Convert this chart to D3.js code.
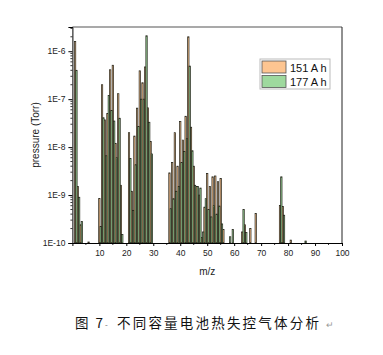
<!DOCTYPE html>
<html><head><meta charset="utf-8">
<script src="https://cdn.jsdelivr.net/npm/d3@7"></script>
<style>body{margin:0;background:#fff;} svg{display:block;}</style>
</head><body>
<svg id="c" width="383" height="355"></svg>
<script>
const mz   = [1,2,3,6,10,11,12,13,14,15,16,17,18,21,22,23,24,25,26,27,28,29,36,37,38,39,40,41,42,43,44,45,46,47,48,49,50,51,52,53,54,55,56,58,59,63,64,66,68,77,78,81,86];
const p151 = [1.6e-6,1.5e-9,2.4e-10,1.05e-10,8.5e-10,2.0e-7,3.7e-8,5e-8,4.1e-7,5.1e-7,1.2e-8,1.3e-7,1.6e-9,2.0e-8,1.2e-9,1.7e-8,6.5e-8,3.9e-7,2.2e-7,4.7e-7,6.6e-8,1.3e-8,2.9e-9,4.8e-9,2.0e-8,4e-9,3.4e-8,1.4e-8,4.4e-8,2.0e-6,2.6e-8,4e-9,1.5e-9,1.0e-9,1.3e-10,5.6e-10,2.8e-9,1.5e-9,2.4e-9,2.5e-9,1.9e-9,2.2e-9,1.9e-10,null,null,1.7e-10,2.4e-10,2e-10,4.1e-10,6.1e-10,5.8e-10,1.15e-10,null];
const p177 = [4.0e-7,9e-10,2.8e-10,null,2.2e-10,4.1e-8,6.6e-9,1.2e-7,5.8e-8,3.5e-8,6e-9,4e-8,1.5e-10,5.8e-9,4.8e-10,4.3e-9,2.7e-8,1.0e-7,1.0e-7,2.1e-6,3.3e-8,7.2e-9,5.2e-10,8.4e-10,1.2e-9,1.5e-9,4.8e-9,8.1e-9,1.5e-8,4.9e-7,8.4e-9,1.6e-9,1.5e-9,1.4e-9,1.7e-10,8.4e-10,5e-10,3.5e-10,6e-10,4e-10,5.9e-10,2.5e-10,null,1.35e-10,1.9e-10,5e-10,1.65e-10,null,null,2.4e-9,3.8e-10,null,1.1e-10];
const seriesNames = ["151 A h","177 A h"];
const seriesColors = ["#fdc591","#9ed99e"];
const xTicks = [10,20,30,40,50,60,70,80,90,100];
const yTicks = [1e-10,1e-9,1e-8,1e-7,1e-6];

const svg = d3.select("#c");
const L=72.4, R=342, T=27, B=243;
const x = d3.scaleLinear().domain([0,100]).range([L,R]);
const y = d3.scaleLog().domain([1e-10,3.2e-6]).range([B,T]);
const bw = x(0.5)-x(0);

const g = svg.append("g");
[p151,p177].forEach((arr,si)=>{
  g.selectAll(null).data(mz.map((m,i)=>({m,v:arr[i]})).filter(d=>d.v!=null))
    .enter().append("rect")
    .attr("x",d=>x(d.m-0.25+si*0.5))
    .attr("width",bw)
    .attr("y",d=>y(d.v))
    .attr("height",d=>B-y(d.v))
    .attr("fill",seriesColors[si])
    .attr("stroke","#1c1c12").attr("stroke-width",0.7);
});

// frame top/right
svg.append("line").attr("x1",L).attr("x2",R).attr("y1",T).attr("y2",T).attr("stroke","#555").attr("stroke-width",1.2);
svg.append("line").attr("x1",R).attr("x2",R).attr("y1",T).attr("y2",B).attr("stroke","#222").attr("stroke-width",1);

// y axis
const ya = svg.append("g").attr("transform",`translate(${L},0)`)
  .call(d3.axisLeft(y).tickValues(yTicks).tickSize(4).tickPadding(3).tickFormat(d=>"1E"+Math.round(Math.log10(d))));
const minor=[];
for(let e=-10;e<=-6;e++){for(let k=2;k<=9;k++){const v=k*Math.pow(10,e); if(v<=3.2e-6) minor.push(v);}}
ya.selectAll(".mn").data(minor).enter().append("line").attr("class","mn")
  .attr("x1",0).attr("x2",-2).attr("y1",d=>y(d)).attr("y2",d=>y(d)).attr("stroke","#000").attr("stroke-width",0.8);
ya.select(".domain").attr("stroke","#000");
ya.selectAll("text").attr("font-family","Liberation Sans, Arial, sans-serif").attr("font-size",8.5).attr("fill","#222");

// x axis
const xa = svg.append("g").attr("transform",`translate(0,${B})`)
  .call(d3.axisBottom(x).tickValues(xTicks).tickSize(3).tickPadding(4).tickFormat(d3.format("d")));
xa.selectAll(".mnx").data(d3.range(5,100,10)).enter().append("line").attr("class","mnx")
  .attr("x1",d=>x(d)).attr("x2",d=>x(d)).attr("y1",0).attr("y2",2).attr("stroke","#000").attr("stroke-width",0.8);
xa.select(".domain").attr("stroke","#000");
xa.selectAll("text").attr("font-family","Liberation Sans, Arial, sans-serif").attr("font-size",8.5).attr("fill","#222");

// axis titles
svg.append("text").attr("x",(L+R)/2).attr("y",275).attr("text-anchor","middle")
  .attr("font-family","Liberation Sans, Arial, sans-serif").attr("font-size",10).attr("fill","#222").text("m/z");
svg.append("text").attr("transform","translate(39,135) rotate(-90)").attr("text-anchor","middle")
  .attr("font-family","Liberation Sans, Arial, sans-serif").attr("font-size",10).attr("fill","#222").text("pressure (Torr)");

// legend
const lg = svg.append("g").attr("transform","translate(260,59)");
lg.append("rect").attr("x",0).attr("y",0).attr("width",70).attr("height",30).attr("fill","#fff").attr("stroke","#bbb").attr("stroke-width",1);
seriesNames.forEach((n,i)=>{
  lg.append("rect").attr("x",2).attr("y",2+i*14.5).attr("width",24).attr("height",12)
    .attr("fill",seriesColors[i]).attr("stroke","#555").attr("stroke-width",0.8);
  lg.append("text").attr("x",30).attr("y",12.5+i*14.5).attr("font-family","Liberation Sans, Arial, sans-serif")
    .attr("font-size",11).attr("fill","#111").text(n);
});

// caption
const capFont = "Noto Sans CJK SC, sans-serif";
const c1 = svg.append("text").attr("x",75).attr("y",328).attr("font-family",capFont)
  .attr("font-size",13.5).attr("letter-spacing",2).attr("fill","#111");
c1.append("tspan").text("图 7");
c1.append("tspan").attr("font-size",8).attr("fill","#666").attr("letter-spacing",0).text("-");
svg.append("text").attr("x",117).attr("y",328).attr("font-family",capFont)
  .attr("font-size",13.5).attr("letter-spacing",2.2).attr("fill","#111").text("不同容量电池热失控气体分析");
svg.append("text").attr("x",326).attr("y",328).attr("font-family",capFont)
  .attr("font-size",9).attr("fill","#999").text("↵");
</script>
</body></html>
